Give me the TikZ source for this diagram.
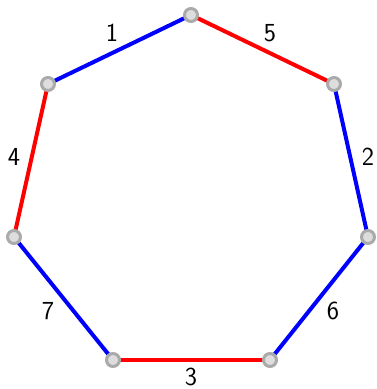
\documentclass[tikz,border=0pt]{standalone}
\begin{document}
\begin{tikzpicture}[x=1pt,y=-1pt,
  vert/.style={circle,draw={rgb,255:red,170;green,170;blue,170},fill={rgb,255:red,221;green,221;blue,221},line width=3pt,minimum size=13pt,inner sep=0pt},
  bedge/.style={draw={rgb,255:red,0;green,0;blue,255},line width=4pt},
  redge/.style={draw={rgb,255:red,255;green,0;blue,0},line width=4pt},
  lab/.style={font=\sffamily\fontsize{26}{30}\selectfont,inner sep=0pt}]
\useasboundingbox (0,0) rectangle (376,389);
\coordinate (A) at (191,15);
\coordinate (B) at (334,84);
\coordinate (C) at (368,237);
\coordinate (D) at (270,360);
\coordinate (E) at (113,360);
\coordinate (F) at (14,237);
\coordinate (G) at (48,84);
\draw[bedge] (A) -- (G);
\draw[redge] (A) -- (B);
\draw[bedge] (B) -- (C);
\draw[bedge] (C) -- (D);
\draw[redge] (D) -- (E);
\draw[bedge] (E) -- (F);
\draw[redge] (F) -- (G);
\foreach \v in {A,B,C,D,E,F,G} \node[vert] (n\v) at (\v) {};
\node[lab] (l1) at (112,33) {1};
\node[lab] (l5) at (270,33) {5};
\node[lab] (l2) at (368,157) {2};
\node[lab] (l4) at (14,157) {4};
\node[lab] (l7) at (48,311) {7};
\node[lab] (l6) at (333,311) {6};
\node[lab] (l3) at (191,377) {3};
\end{tikzpicture}
\end{document}
